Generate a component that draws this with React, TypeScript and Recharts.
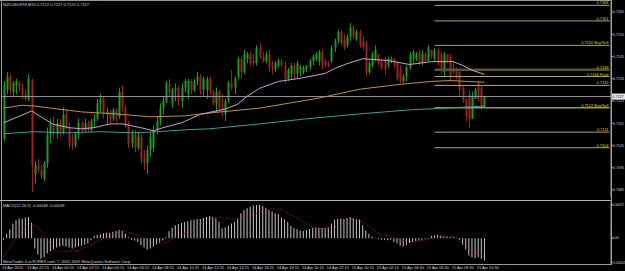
import React from 'react';
import { ComposedChart, Bar, Line, XAxis, YAxis, ReferenceLine } from 'recharts';

// prices are kept in pips (0.7127 -> 7127), MACD in 1e-5 units
const candles: [number, number, number, number][] = [
  [7108, 7134, 7107, 7132], [7130, 7138, 7128, 7136], [7136, 7137, 7128, 7130], [7129, 7134, 7127, 7133],
  [7132, 7135, 7128, 7134], [7133, 7134, 7129, 7131], [7131, 7133, 7126, 7128], [7128, 7130, 7125, 7126],
  [7126, 7137, 7125, 7135], [7134, 7135, 7084, 7096], [7092, 7098, 7088, 7096], [7096, 7099, 7093, 7094],
  [7094, 7096, 7090, 7091], [7090, 7098, 7089, 7097], [7097, 7113, 7095, 7110], [7110, 7117, 7106, 7115],
  [7115, 7118, 7108, 7110], [7110, 7117, 7108, 7115], [7115, 7117, 7109, 7111], [7111, 7122, 7110, 7119],
  [7119, 7121, 7112, 7113], [7113, 7115, 7104, 7106], [7106, 7110, 7103, 7105], [7105, 7111, 7104, 7110],
  [7110, 7117, 7108, 7115], [7115, 7116, 7110, 7112], [7112, 7117, 7111, 7115], [7115, 7116, 7111, 7112],
  [7112, 7117, 7111, 7116], [7116, 7119, 7113, 7117], [7117, 7126, 7116, 7124], [7124, 7128, 7120, 7126],
  [7126, 7127, 7117, 7119], [7119, 7122, 7114, 7120], [7120, 7121, 7115, 7117], [7117, 7122, 7116, 7121],
  [7121, 7122, 7116, 7118], [7118, 7131, 7117, 7129], [7129, 7132, 7120, 7122], [7122, 7123, 7113, 7114],
  [7114, 7116, 7104, 7106], [7106, 7112, 7104, 7110], [7110, 7112, 7102, 7104], [7104, 7111, 7103, 7109],
  [7109, 7110, 7097, 7099], [7099, 7103, 7094, 7097], [7097, 7105, 7092, 7103], [7103, 7111, 7100, 7109],
  [7104, 7114, 7102, 7112], [7112, 7118, 7110, 7116], [7116, 7124, 7114, 7122], [7122, 7127, 7119, 7125],
  [7125, 7134, 7124, 7133], [7133, 7135, 7127, 7129], [7124, 7131, 7122, 7130], [7130, 7133, 7125, 7131],
  [7131, 7132, 7123, 7125], [7125, 7133, 7122, 7131], [7131, 7135, 7129, 7134], [7128, 7135, 7126, 7134],
  [7134, 7135, 7128, 7130], [7130, 7135, 7129, 7134], [7134, 7138, 7132, 7136], [7136, 7137, 7128, 7130],
  [7130, 7136, 7127, 7135], [7130, 7136, 7126, 7135], [7135, 7136, 7128, 7129], [7129, 7130, 7123, 7124],
  [7124, 7131, 7120, 7129], [7129, 7130, 7120, 7122], [7122, 7128, 7118, 7120], [7119, 7126, 7116, 7125],
  [7125, 7134, 7124, 7133], [7133, 7139, 7130, 7131], [7131, 7136, 7128, 7135], [7136, 7145, 7135, 7144],
  [7144, 7145, 7135, 7138], [7138, 7148, 7137, 7146], [7144, 7147, 7142, 7146], [7146, 7147, 7141, 7142],
  [7143, 7146, 7141, 7142], [7142, 7150, 7141, 7149], [7149, 7151, 7144, 7145], [7145, 7147, 7142, 7143],
  [7143, 7147, 7142, 7146], [7146, 7148, 7138, 7140], [7140, 7143, 7137, 7139], [7139, 7143, 7138, 7142],
  [7141, 7144, 7140, 7143], [7143, 7144, 7140, 7141], [7141, 7143, 7133, 7135], [7135, 7140, 7134, 7139],
  [7137, 7142, 7135, 7141], [7141, 7142, 7135, 7137], [7137, 7143, 7135, 7142], [7139, 7141, 7136, 7140],
  [7138, 7141, 7137, 7140], [7139, 7141, 7138, 7141], [7140, 7144, 7139, 7143], [7143, 7146, 7141, 7145],
  [7144, 7147, 7143, 7146], [7143, 7148, 7141, 7147], [7147, 7148, 7139, 7141], [7143, 7144, 7140, 7141],
  [7142, 7143, 7140, 7141], [7143, 7150, 7142, 7149], [7149, 7153, 7147, 7152], [7152, 7157, 7151, 7156],
  [7156, 7157, 7150, 7151], [7153, 7155, 7148, 7149], [7150, 7155, 7149, 7154], [7154, 7160, 7152, 7158],
  [7158, 7159, 7153, 7154], [7153, 7157, 7152, 7156], [7156, 7157, 7149, 7150], [7152, 7154, 7148, 7149],
  [7151, 7152, 7136, 7138], [7138, 7143, 7137, 7142], [7141, 7147, 7140, 7146], [7144, 7150, 7143, 7148],
  [7146, 7146, 7141, 7142], [7143, 7144, 7139, 7140], [7144, 7145, 7137, 7139], [7141, 7145, 7140, 7144],
  [7143, 7145, 7142, 7144], [7144, 7144, 7140, 7141], [7142, 7143, 7134, 7135], [7139, 7141, 7133, 7134],
  [7134, 7137, 7133, 7136], [7136, 7141, 7134, 7140], [7140, 7147, 7139, 7146], [7144, 7148, 7142, 7147],
  [7144, 7147, 7143, 7146], [7147, 7148, 7141, 7142], [7142, 7148, 7141, 7146], [7146, 7147, 7142, 7143],
  [7143, 7150, 7143, 7149], [7148, 7148, 7144, 7145], [7144, 7149, 7143, 7148], [7148, 7149, 7141, 7142],
  [7146, 7147, 7137, 7139], [7138, 7147, 7136, 7146], [7146, 7146, 7142, 7143], [7145, 7146, 7134, 7136],
  [7140, 7143, 7137, 7138], [7139, 7140, 7135, 7136], [7138, 7139, 7127, 7130], [7131, 7132, 7124, 7125],
  [7126, 7126, 7116, 7118], [7128, 7130, 7113, 7117], [7117, 7129, 7117, 7127], [7126, 7131, 7126, 7130],
  [7133, 7134, 7125, 7126], [7131, 7132, 7121, 7122], [7122, 7127, 7122, 7127],
];

// moving averages, read at a few bars
const maFast: [number, number][] = [
  [0, 7115.2], [9, 7120.5], [13, 7117.0], [16, 7114.5], [21, 7113.0], [25, 7112.5], [29, 7113.0],
  [34, 7114.7], [38, 7114.7], [44, 7113.0], [48, 7111.6], [51, 7113.0], [57, 7115.2], [63, 7119.0],
  [71, 7121.4], [75, 7123.6], [78, 7127.2], [82, 7130.7], [88, 7133.8], [95, 7135.2], [103, 7137.4],
  [106, 7139.6], [110, 7141.8], [115, 7144.0], [123, 7143.2], [130, 7141.4], [137, 7142.7],
  [144, 7142.7], [147, 7141.0], [150, 7138.8], [154, 7137.0],
];
const maMid: [number, number][] = [
  [0, 7121.8], [6, 7123.1], [10, 7122.7], [15, 7121.8], [25, 7120.1], [36, 7119.2], [47, 7117.9],
  [58, 7118.3], [66, 7119.6], [82, 7121.8], [101, 7126.3], [114, 7130.3], [127, 7132.5],
  [137, 7133.8], [143, 7134.2], [154, 7133.4],
];
const maSlow: [number, number][] = [
  [0, 7110.3], [10, 7111.2], [20, 7110.7], [31, 7111.2], [42, 7110.7], [49, 7111.2], [59, 7112.1],
  [66, 7112.5], [82, 7114.7], [97, 7117.0], [114, 7119.2], [130, 7121.0], [154, 7122.7],
];

const macdHist = [
  -3, 10, 19, 32, 39, 43, 43, 45, 46, 34, -22, -35, -44, -41, -33, -28, -24, -20, -18, -16,
  -18, -20, -22, -20, -18, -16, -14, -11, -4, 5, 7, 9, 11, 12, 12, 14, 16, 18, 16, 10,
  2, -3, -5, -8, -15, -20, -24, -22, -18, -14, -9, -5, 2, 15, 22, 28, 31, 33, 35, 37,
  39, 40, 42, 42, 44, 46, 48, 46, 43, 36, 21, 24, 27, 32, 36, 43, 54, 61, 65, 68,
  71, 72, 72, 70, 66, 61, 58, 54, 52, 45, 41, 36, 27, 22, 20, 17, 16, 18, 20, 22,
  24, 23, 22, 22, 24, 32, 40, 42, 43, 42, 44, 46, 44, 42, 40, 28, 17, 10, 4, 1,
  -2, -3, -3, -4, -3, -8, -11, -16, -18, -15, -10, -8, -6, -5, -3, -2, -1, 5, 6, 7,
  6, 4, 4, 3, 2, 1, -3, -14, -24, -37, -41, -43, -41, -44, -48,
];
const macdSignal: [number, number][] = [
  [0, -40], [5, 10], [8, 32], [11, 25], [14, -4], [17, -30], [24, -26], [31, -4], [38, 17],
  [44, 4], [48, -11], [51, -11], [57, 7], [66, 43], [69, 46], [74, 40], [80, 51], [86, 65],
  [89, 61], [95, 40], [100, 20], [106, 24], [112, 43], [116, 32], [120, 10], [127, -3],
  [132, -9], [137, 0], [141, 5], [145, 2], [148, -18], [151, -31], [154, -39],
];

const timeLabels = [
  '13 Apr 2010', '13 Apr 22:15', '14 Apr 00:15', '14 Apr 02:15', '14 Apr 04:15', '14 Apr 06:15',
  '14 Apr 08:15', '14 Apr 10:15', '14 Apr 12:15', '14 Apr 14:15', '14 Apr 16:15', '14 Apr 18:15',
  '14 Apr 20:15', '14 Apr 22:15', '15 Apr 00:15', '15 Apr 02:15', '15 Apr 04:30', '15 Apr 06:30',
  '15 Apr 08:30', '15 Apr 10:30',
];
const priceTicks = [7165, 7155, 7145, 7135, 7125, 7115, 7105, 7095, 7085];
const macdTicks = [72, 0, -52];
const pivotLevels = [7168, 7161, 7150, 7139, 7136, 7132, 7122, 7111, 7104];
const pivotNames = ['0.7168', '0.7161', '0.7150 Buy/Sell', '0.7139', '0.7136 Pivot', '0.7132', '0.7122 Buy/Sell', '0.7111', '0.7104'];
const bidPrice = 7127;

const TOTAL_SLOTS = 195; // chart is shifted: empty space right of the last bar
const PIVOT_FROM = 138;

const rows: any[] = Array.from({ length: TOTAL_SLOTS }, (_, i) => {
  const row: any = { i };
  const k = candles[i];
  if (k) {
    row.o = k[0]; row.h = k[1]; row.l = k[2]; row.c = k[3];
    row.range = [k[2], k[1]];
    row.hist = macdHist[i];
  }
  return row;
});
maFast.forEach(([i, v]) => { rows[i].ma1 = v; });
maMid.forEach(([i, v]) => { rows[i].ma2 = v; });
maSlow.forEach(([i, v]) => { rows[i].ma3 = v; });
macdSignal.forEach(([i, v]) => { rows[i].sig = v; });
const labelIdx = timeLabels.map((_, k) => k * 8);

const GREEN = '#1f9a1f';
const RED = '#9c2222';
const FONT = '"Liberation Sans", Arial, sans-serif';
const TXT = '#d4d4d4';

const Candle = (props: any) => {
  const { x, y, width, height, payload } = props;
  if (!payload || payload.o == null) return null;
  const { o, h, l, c } = payload;
  const color = c >= o ? GREEN : RED;
  const span = h - l || 1;
  const py = (v: number) => y + ((h - v) / span) * height;
  const cx = Math.round(x + width / 2) + 0.5;
  const top = py(Math.max(o, c));
  const bot = py(Math.min(o, c));
  return (
    <g>
      <line x1={cx} x2={cx} y1={y} y2={y + height} stroke={color} strokeWidth={1} />
      <rect x={cx - 1} y={top} width={2} height={Math.max(1, bot - top)} fill={color} />
    </g>
  );
};

const PriceTick = ({ x, y, payload }: any) => (
  <text x={x} y={y + 1.3} fontSize={3.6} fill={TXT} fontFamily={FONT} textAnchor="start">
    {(payload.value / 10000).toFixed(4)}
  </text>
);

const MacdTick = ({ x, y, payload }: any) => (
  <text x={x - 0.5} y={y + 1.2} fontSize={3.2} fill={TXT} fontFamily={FONT} textAnchor="start">
    {payload.value === 0 ? '0.00' : (payload.value / 100000).toFixed(5)}
  </text>
);

const TimeTick = ({ x, y, payload }: any) => (
  <text x={x - 1.5} y={y + 5} fontSize={3.9} fill={TXT} fontFamily={FONT} textAnchor="start">
    {timeLabels[labelIdx.indexOf(payload.value)]}
  </text>
);

const pivotStyle = (lvl: number) => {
  if (lvl === 7139) return { stroke: '#56562a', strokeWidth: 2.5 };
  if (lvl === 7122) return { stroke: '#9c9c34', strokeWidth: 1.5 };
  return { stroke: '#aaa878', strokeWidth: 1 };
};

const PivotLabel = (text: string) => (props: any) => {
  const vb = props.viewBox || {};
  return (
    <text x={vb.x + vb.width - 1} y={vb.y - 1} fontSize={3.9} fill="#dede00" fontFamily={FONT} textAnchor="end">
      {text}
    </text>
  );
};

const BidLabel = (props: any) => {
  const vb = props.viewBox || {};
  const bx = vb.x + vb.width + 1;
  return (
    <g>
      <rect x={bx} y={vb.y - 3} width={13} height={6} fill="#e8e8e8" />
      <text x={bx + 0.5} y={vb.y + 1.3} fontSize={3.6} fill="#000" fontFamily={FONT}>
        {(bidPrice / 10000).toFixed(4)}
      </text>
    </g>
  );
};

export default function App() {
  return (
    <div style={{ position: 'absolute', left: 0, top: 0, width: 625, height: 271, background: '#000', overflow: 'hidden' }}>
      <div style={{ position: 'absolute', left: 0, top: 0 }}>
        <ComposedChart width={625} height={200} data={rows} margin={{ top: 2, right: 0, bottom: 2, left: 2 }} barCategoryGap={0}>
          <XAxis dataKey="i" type="category" hide />
          <YAxis
            orientation="right"
            width={14}
            domain={[7081.4, 7169.5]}
            ticks={priceTicks}
            interval={0}
            allowDataOverflow
            tick={PriceTick}
            tickSize={2}
            tickMargin={0}
            axisLine={{ stroke: '#a0a0a0' }}
            tickLine={{ stroke: '#a0a0a0' }}
          />
          {pivotLevels.map((lvl, k) => (
            <ReferenceLine
              key={lvl}
              segment={[{ x: PIVOT_FROM, y: lvl }, { x: TOTAL_SLOTS - 1, y: lvl }]}
              {...pivotStyle(lvl)}
              label={PivotLabel(pivotNames[k])}
            />
          ))}
          <ReferenceLine y={bidPrice} stroke="#969696" strokeWidth={1} label={BidLabel} />
          <Bar dataKey="range" shape={Candle} barSize={3} isAnimationActive={false} />
          <Line dataKey="ma3" stroke="#33a0a0" strokeWidth={1} dot={false} connectNulls isAnimationActive={false} />
          <Line dataKey="ma2" stroke="#bf8f50" strokeWidth={1} dot={false} connectNulls isAnimationActive={false} />
          <Line dataKey="ma1" stroke="#c8a0cc" strokeWidth={1} dot={false} connectNulls isAnimationActive={false} />
        </ComposedChart>
      </div>
      <div style={{ position: 'absolute', left: 0, top: 201 }}>
        <ComposedChart width={625} height={70} data={rows} margin={{ top: 1, right: 0, bottom: 0, left: 2 }} barCategoryGap={0}>
          <XAxis
            dataKey="i"
            type="category"
            ticks={labelIdx}
            interval={0}
            height={7}
            axisLine={false}
            tickLine={false}
            tickSize={0}
            tickMargin={0}
            tick={TimeTick}
          />
          <YAxis
            orientation="right"
            width={14}
            domain={[-55.6, 78.5]}
            ticks={macdTicks}
            interval={0}
            allowDataOverflow
            tick={MacdTick}
            tickSize={2}
            tickMargin={0}
            axisLine={{ stroke: '#a0a0a0' }}
            tickLine={{ stroke: '#a0a0a0' }}
          />
          <Bar dataKey="hist" fill="#c4c4c4" barSize={1} isAnimationActive={false} />
          <Line dataKey="sig" stroke="#bc1c1c" strokeWidth={1} strokeDasharray="1 1.5" dot={false} connectNulls isAnimationActive={false} />
        </ComposedChart>
      </div>
      <svg width={625} height={271} style={{ position: 'absolute', left: 0, top: 0, pointerEvents: 'none' }}>
        <line x1={0} x2={611} y1={0.5} y2={0.5} stroke="#9a9a9a" />
        <line x1={1.5} x2={1.5} y1={0} y2={264} stroke="#9a9a9a" />
        <line x1={0} x2={611} y1={200.5} y2={200.5} stroke="#b4b4b4" />
        <line x1={0} x2={611} y1={264.5} y2={264.5} stroke="#9a9a9a" />
        <line x1={611.5} x2={611.5} y1={0} y2={265} stroke="#a0a0a0" />
        <text x={3} y={5.5} fontSize={4} fill={TXT} fontFamily={FONT}>NZDUSDFXF,M15  0.7122 0.7127 0.7122 0.7127</text>
        <text x={3} y={206.5} fontSize={4} fill={TXT} fontFamily={FONT}>MACD(12,26,9) -0.00048 -0.00039</text>
        <text x={3} y={262.5} fontSize={4} fill={TXT} fontFamily={FONT}>MetaTrader 4 at FOREX.com, © 2001-2009 MetaQuotes Software Corp.</text>
      </svg>
    </div>
  );
}
